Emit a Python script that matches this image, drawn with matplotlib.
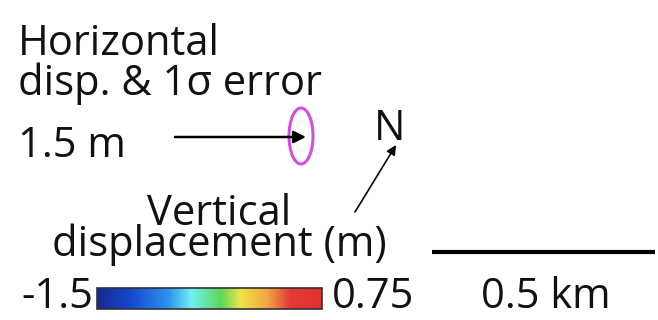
import numpy as np
import matplotlib.pyplot as plt
from matplotlib.patches import Ellipse, Rectangle
from matplotlib.colors import LinearSegmentedColormap

# legend values
disp_ref_m = 1.5
cbar_min, cbar_max = -1.5, 0.75
scale_km = 0.5
labels = ["Horizontal", "disp. & 1\u03c3 error", "Vertical\ndisplacement (m)"]

# colour ramp of the vertical-displacement bar
ramp_pos = [0.0, 0.15, 0.32, 0.42, 0.55, 0.64, 0.76, 0.86, 1.0]
ramp_col = ["#1a2a90", "#1448d0", "#2f95f0", "#70f0f2", "#5cd85a",
            "#f0e448", "#f0a445", "#e53a34", "#e03030"]

plt.rcParams['font.family'] = ['Open Sans', 'DejaVu Sans']

fig = plt.figure(figsize=(6.58, 3.2), dpi=100)
ax = fig.add_axes([0, 0, 1, 1])
ax.axis("off")

fs = 30
tc = "#111111"

ax.text(18, 55, labels[0], fontsize=fs, color=tc, ha="left", va="baseline")
ax.text(18, 95, labels[1], fontsize=fs, color=tc, ha="left", va="baseline")
ax.text(18, 157, f"{disp_ref_m} m", fontsize=fs, color=tc, ha="left", va="baseline")

# horizontal displacement arrow + error ellipse
ax.annotate("", xy=(306, 137), xytext=(175, 137),
            arrowprops=dict(arrowstyle="-|>", color="black", lw=1.8,
                            mutation_scale=18, shrinkA=0, shrinkB=0))
ax.add_patch(Ellipse((301, 136), 24, 56, fill=False, ec="#d24fe0", lw=2.2))

# north arrow
ax.text(390, 140, "N", fontsize=fs, color=tc, ha="center", va="baseline")
ax.annotate("", xy=(396, 145), xytext=(355, 212),
            arrowprops=dict(arrowstyle="-|>", color="black", lw=1.2,
                            mutation_scale=14, shrinkA=0, shrinkB=0))

# vertical displacement colorbar (va=baseline anchors the last line)
ax.text(219, 256, labels[2], fontsize=fs, color=tc, ha="center",
        va="baseline", multialignment="center", linespacing=0.645)
cmap = LinearSegmentedColormap.from_list("vd", list(zip(ramp_pos, ramp_col)))
grad = np.linspace(cbar_min, cbar_max, 256).reshape(1, -1)
ax.imshow(grad, cmap=cmap, aspect="auto", extent=(97, 322, 309, 288),
          vmin=cbar_min, vmax=cbar_max)
ax.add_patch(Rectangle((97, 288), 225, 21, fill=False, ec="#333333", lw=1.2))
ax.text(93, 308, f"{cbar_min}", fontsize=fs, color=tc, ha="right", va="baseline")
ax.text(332, 308, f"{cbar_max}", fontsize=fs, color=tc, ha="left", va="baseline")

# scale bar
ax.plot([432, 655], [252, 252], color="black", lw=3, solid_capstyle="butt")
ax.text(546, 308, f"{scale_km} km", fontsize=fs, color=tc, ha="center", va="baseline")

ax.set_xlim(0, 658)
ax.set_ylim(320, 0)
fig.savefig("out.png", dpi=100)
